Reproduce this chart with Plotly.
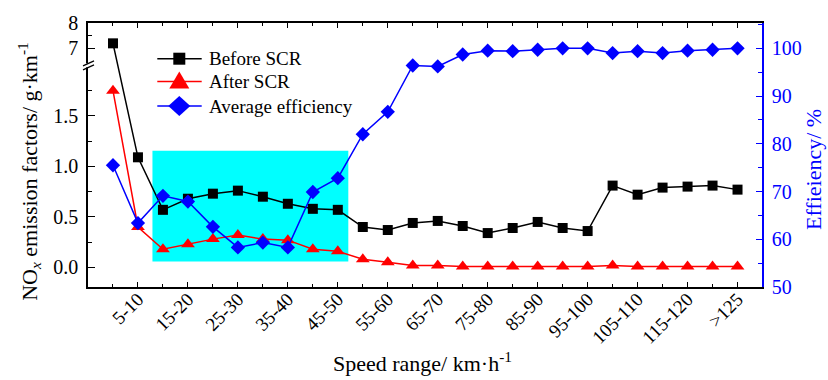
import plotly.graph_objects as go

# Speed bins (km/h)
categories = ["0-5", "5-10", "10-15", "15-20", "20-25", "25-30", "30-35", "35-40",
              "40-45", "45-50", "50-55", "55-60", "60-65", "65-70", "70-75", "75-80",
              "80-85", "85-90", "90-95", "95-100", "100-105", "105-110", "110-115",
              "115-120", "120-125", ">125"]

# NOx emission factors, g/km
before_scr = [7.20, 1.09, 0.57, 0.68, 0.73, 0.76, 0.70, 0.63, 0.58, 0.57, 0.40, 0.37,
              0.44, 0.46, 0.41, 0.34, 0.39, 0.45, 0.39, 0.36, 0.81, 0.72, 0.79, 0.80,
              0.81, 0.77]
after_scr = [1.75, 0.40, 0.18, 0.23, 0.28, 0.32, 0.28, 0.27, 0.18, 0.16, 0.08, 0.05,
             0.02, 0.02, 0.01, 0.01, 0.01, 0.01, 0.01, 0.01, 0.02, 0.01, 0.01, 0.01,
             0.01, 0.01]
# Average SCR efficiency, %
efficiency = [75.5, 63.4, 69.1, 67.9, 62.6, 58.3, 59.3, 58.3, 69.9, 72.8, 82.0, 86.7,
              96.4, 96.2, 98.7, 99.5, 99.4, 99.7, 100.0, 100.0, 99.0, 99.4, 99.0, 99.5,
              99.7, 100.0]

series_names = ["Before SCR", "After SCR", "Average efficiency"]

left_ticks = [0.0, 0.5, 1.0, 1.5, 7, 8]
left_ticktext = ["0.0", "0.5", "1.0", "1.5", "7", "8"]
left_minor = [0.25, 0.75, 1.25, 1.75, 7.5]
right_ticks = [50, 60, 70, 80, 90, 100]
right_minor = [55, 65, 75, 85, 95, 105]

# Highlighted low-speed region (category position span, emission span)
box_x = [1.58, 9.42]
box_y = [0.058, 1.156]

# Broken left axis: values above the break are compressed into a short upper band
BREAK_AT = 2.0
UPPER_START = 6.333
UPPER_SCALE = 0.2517


def brk(v):
    return v if v <= BREAK_AT else BREAK_AT + (v - UPPER_START) * UPPER_SCALE


FONT = "Liberation Serif"
BLACK, RED, BLUE = "#000000", "#ff0000", "#0000ff"
xpos = list(range(len(categories)))
major_idx = xpos[1::2]
minor_idx = xpos[0::2]

fig = go.Figure()

fig.add_trace(go.Scatter(
    x=xpos, y=[brk(v) for v in before_scr], name=series_names[0],
    mode="lines+markers", line=dict(color=BLACK, width=1.5),
    marker=dict(symbol="square", size=10, color=BLACK)))
fig.add_trace(go.Scatter(
    x=xpos, y=[brk(v) for v in after_scr], name=series_names[1],
    mode="lines+markers", line=dict(color=RED, width=1.5),
    marker=dict(symbol="triangle-up", size=12, color=RED)))
fig.add_trace(go.Scatter(
    x=xpos, y=efficiency, name=series_names[2], yaxis="y2",
    mode="lines+markers", line=dict(color=BLUE, width=1.5),
    marker=dict(symbol="diamond", size=11, color=BLUE)))

# Cyan band behind the low-speed points
fig.add_shape(type="rect", xref="x", yref="y", x0=box_x[0], x1=box_x[1],
              y0=box_y[0], y1=box_y[1], fillcolor="#00ffff",
              line=dict(width=0), layer="below")

# Axis break marks on the left axis
fig.add_shape(type="rect", xref="paper", yref="y", xsizemode="pixel", ysizemode="pixel",
              xanchor=0, yanchor=BREAK_AT, x0=-2, x1=2, y0=-2, y1=2,
              fillcolor="white", line=dict(width=0))
for dy in (-2, 2):
    fig.add_shape(type="line", xref="paper", yref="y", xsizemode="pixel",
                  ysizemode="pixel", xanchor=0, yanchor=BREAK_AT,
                  x0=-5, x1=6, y0=dy - 2.5, y1=dy + 2.5,
                  line=dict(color=BLACK, width=1.2))

# Legend block (pixel offsets from the top-left corner of the plot area, y up)
legend_rows = [-35.7, -58.5, -83.0]
legend_colors = [BLACK, RED, BLUE]
legend_glyphs = [
    [(-6, -6), (6, -6), (6, 6), (-6, 6)],          # square
    [(-10, -7), (10, -7), (0, 10)],                # triangle
    [(-11, 0), (0, 10), (11, 0), (0, -10)],        # diamond
]
LINE_X0, LINE_X1, GLYPH_X, TEXT_X = 69.3, 113.7, 91.3, 119.0


def glyph_path(points, cx, cy):
    pts = [f"{cx + dx:.1f},{cy + dy:.1f}" for dx, dy in points]
    return "M" + " L".join(pts) + " Z"


for name, row, col, glyph in zip(series_names, legend_rows, legend_colors, legend_glyphs):
    fig.add_shape(type="line", xref="paper", yref="paper", xsizemode="pixel",
                  ysizemode="pixel", xanchor=0, yanchor=1,
                  x0=LINE_X0, x1=LINE_X1, y0=row, y1=row,
                  line=dict(color=col, width=1.5))
    fig.add_shape(type="path", xref="paper", yref="paper", xsizemode="pixel",
                  ysizemode="pixel", xanchor=0, yanchor=1,
                  path=glyph_path(glyph, GLYPH_X, row),
                  fillcolor=col, line=dict(width=0))
    fig.add_annotation(text=name, xref="paper", yref="paper", x=0, y=1,
                       xshift=TEXT_X, yshift=row, xanchor="left", yanchor="middle",
                       showarrow=False, font=dict(family=FONT, size=19, color=BLACK))

fig.update_layout(
    width=828, height=380,
    margin=dict(l=88, r=66, t=17, b=93),
    paper_bgcolor="white", plot_bgcolor="white",
    font=dict(family=FONT, size=20, color=BLACK),
    showlegend=False,
    xaxis=dict(range=[-1, 25.98], showgrid=False, zeroline=False,
               showline=True, linecolor=BLACK, linewidth=1.5, mirror="ticks",
               ticks="inside", ticklen=5, tickwidth=1.2, tickcolor=BLACK,
               tickmode="array", tickvals=major_idx,
               ticktext=[categories[i] for i in major_idx],
               tickangle=-45, tickfont=dict(family=FONT, size=19),
               ticklabelstandoff=-8,
               minor=dict(tickmode="array", tickvals=minor_idx, ticks="inside",
                          ticklen=3, tickwidth=1.2, tickcolor=BLACK)),
    yaxis=dict(range=[-0.194, brk(8)], showgrid=False, zeroline=False,
               showline=True, linecolor=BLACK, linewidth=1.5,
               ticks="inside", ticklen=7, tickwidth=1.2, tickcolor=BLACK,
               tickmode="array", tickvals=[brk(v) for v in left_ticks],
               ticktext=left_ticktext, tickfont=dict(family=FONT, size=20),
               ticklabelstandoff=4,
               minor=dict(tickmode="array", tickvals=[brk(v) for v in left_minor],
                          ticks="inside", ticklen=4, tickwidth=1.2, tickcolor=BLACK)),
    yaxis2=dict(range=[50, 105.3], overlaying="y", side="right", anchor="x",
                showgrid=False, zeroline=False,
                showline=True, linecolor=BLUE, linewidth=1.5,
                ticks="inside", ticklen=6, tickwidth=1.2, tickcolor=BLUE,
                tickmode="array", tickvals=right_ticks,
                tickfont=dict(family=FONT, size=20, color=BLUE),
                ticklabelstandoff=4,
                minor=dict(tickmode="array", tickvals=right_minor, ticks="inside",
                           ticklen=4, tickwidth=1.2, tickcolor=BLUE)),
)

# Axis titles
fig.add_annotation(text="Speed range/ km·h<sup>-1</sup>", xref="paper", yref="paper",
                   x=0.497, y=-0.285, xanchor="center", yanchor="middle",
                   showarrow=False, font=dict(family=FONT, size=22))
fig.add_annotation(text="NO<sub><i>x</i></sub> emission factors/ g·km<sup>-1</sup>",
                   xref="paper", yref="paper", x=-0.088, y=0.439, textangle=-90,
                   xanchor="center", yanchor="middle", showarrow=False,
                   font=dict(family=FONT, size=22))
fig.add_annotation(text="Effieiency/ %", xref="paper", yref="paper", x=1.0775, y=0.444,
                   textangle=-90, xanchor="center", yanchor="middle", showarrow=False,
                   font=dict(family=FONT, size=22, color=BLUE))

fig.write_html("out.html")
